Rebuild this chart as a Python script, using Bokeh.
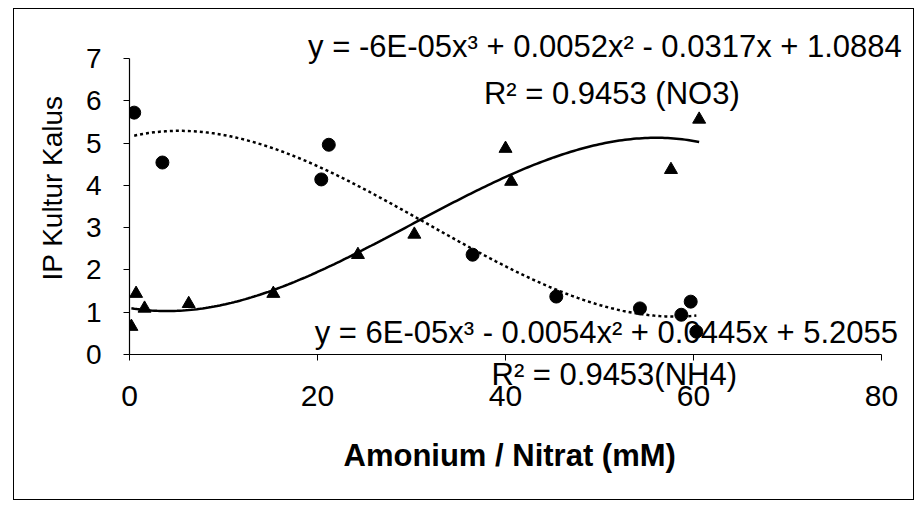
import numpy as np
from bokeh.plotting import figure
from bokeh.models import Label, Range1d, FixedTicker, LinearAxis, Title
from bokeh.embed import file_html
from bokeh.resources import INLINE

# NH4 series (circles, dotted trend)
nh4_x = [0.5, 3.5, 20.4, 21.2, 36.5, 45.4, 54.3, 58.7, 59.7, 60.3]
nh4_y = [5.72, 4.54, 4.14, 4.96, 2.36, 1.37, 1.09, 0.94, 1.25, 0.54]

# NO3 series (triangles, solid trend)
no3_x = [0.2, 0.7, 1.6, 6.3, 15.3, 24.3, 30.3, 40.0, 40.6, 57.6, 60.6]
no3_y = [0.66, 1.44, 1.09, 1.2, 1.44, 2.36, 2.84, 4.87, 4.09, 4.37, 5.56]

x_ticks = [0, 20, 40, 60, 80]
y_ticks = [0, 1, 2, 3, 4, 5, 6, 7]

eq_no3 = "y = -6E-05x\u00b3 + 0.0052x\u00b2 - 0.0317x + 1.0884"
r2_no3 = "R\u00b2 = 0.9453 (NO3)"
eq_nh4 = "y = 6E-05x\u00b3 - 0.0054x\u00b2 + 0.0445x + 5.2055"
r2_nh4 = "R\u00b2 = 0.9453(NH4)"
x_title = "Amonium  / Nitrat (mM)"
y_title = "IP Kultur Kalus"

FONT = "Liberation Sans"
EQ_SIZE = "31px"

# frame: x 0..80 spans 128..880 px, extra room on the right for the equations
p = figure(width=901, height=492, output_backend="svg", toolbar_location=None,
           x_range=Range1d(0, 83.4), y_range=Range1d(0, 7.875),
           min_border_left=115, min_border_right=2, min_border_top=12, min_border_bottom=147)
p.margin = (8, 0, 0, 13)
p.outline_line_color = None
p.grid.visible = False
p.background_fill_color = "white"
p.border_fill_color = "white"
p.styles = {"border": "1.5px solid black"}

# trend lines (cubic polynomial fits of the data, as in the source chart)
def trend(xs, ys):
    c = np.polyfit(xs, ys, 3)
    xx = np.linspace(min(xs), max(xs), 200)
    return xx, np.polyval(c, xx)

tx, ty = trend(nh4_x, nh4_y)
p.line(tx, ty, line_color="black", line_width=2.5, line_dash="3 3")
tx2, ty2 = trend(no3_x, no3_y)
p.line(tx2, ty2, line_color="black", line_width=2.5)

p.scatter(nh4_x, nh4_y, marker="circle", size=13, fill_color="black", line_color="black")
p.scatter(no3_x, no3_y, marker="triangle", size=13, fill_color="black", line_color="black")

# y axis
ya = p.yaxis[0]
ya.bounds = (0, 7)
ya.ticker = FixedTicker(ticks=y_ticks)
ya.axis_line_color = "black"
ya.axis_line_width = 1.2
ya.major_tick_line_color = "black"
ya.major_tick_in = 0
ya.major_tick_out = 6
ya.minor_tick_line_color = None
ya.major_label_text_font = FONT
ya.major_label_text_font_size = "28px"
ya.major_label_text_color = "black"
ya.major_label_standoff = 22
ya.axis_label = y_title
ya.axis_label_text_font = FONT
ya.axis_label_text_font_style = "normal"
ya.axis_label_text_font_size = "28px"
ya.axis_label_text_color = "black"
ya.axis_label_standoff = 15

# x axis at y = 0: line + tick marks only (ticks given as minor ticks -> no labels)
xa = p.xaxis[0]
xa.bounds = (0, 80)
xa.ticker = FixedTicker(ticks=[], minor_ticks=x_ticks)
xa.axis_line_color = "black"
xa.axis_line_width = 1.2
xa.major_tick_line_color = None
xa.minor_tick_line_color = "black"
xa.minor_tick_in = 0
xa.minor_tick_out = 6
xa.major_label_standoff = 0

# R2 text for NH4 sits between the axis line and the tick labels
r2_title = Title(text=r2_nh4, align="left", offset=362, standoff=-12,
                 text_font=FONT, text_font_size=EQ_SIZE, text_font_style="normal",
                 text_color="black")

# x axis: tick labels
xb = LinearAxis(ticker=FixedTicker(ticks=x_ticks), bounds=(0, 80))
xb.axis_line_color = None
xb.major_tick_line_color = None
xb.minor_tick_line_color = None
xb.major_tick_in = 0
xb.major_tick_out = 0
xb.major_label_standoff = 0
xb.major_label_text_font = FONT
xb.major_label_text_font_size = "30px"
xb.major_label_text_color = "black"

# x axis title, centred under the 0..80 axis
xt = Title(text=x_title, align="left", offset=214, standoff=54,
           text_font=FONT, text_font_size="31px", text_font_style="bold",
           text_color="black")

p.below = [xa, r2_title, xb, xt]

for txt, x, y in [(eq_no3, 19.0, 7.28), (r2_no3, 37.7, 6.17), (eq_nh4, 19.7, 0.52)]:
    p.add_layout(Label(x=x, y=y, text=txt, text_font=FONT, text_font_size=EQ_SIZE,
                       text_baseline="middle", text_align="left", text_color="black",
                       level="underlay"))

open("out.html", "w").write(file_html(p, INLINE))
